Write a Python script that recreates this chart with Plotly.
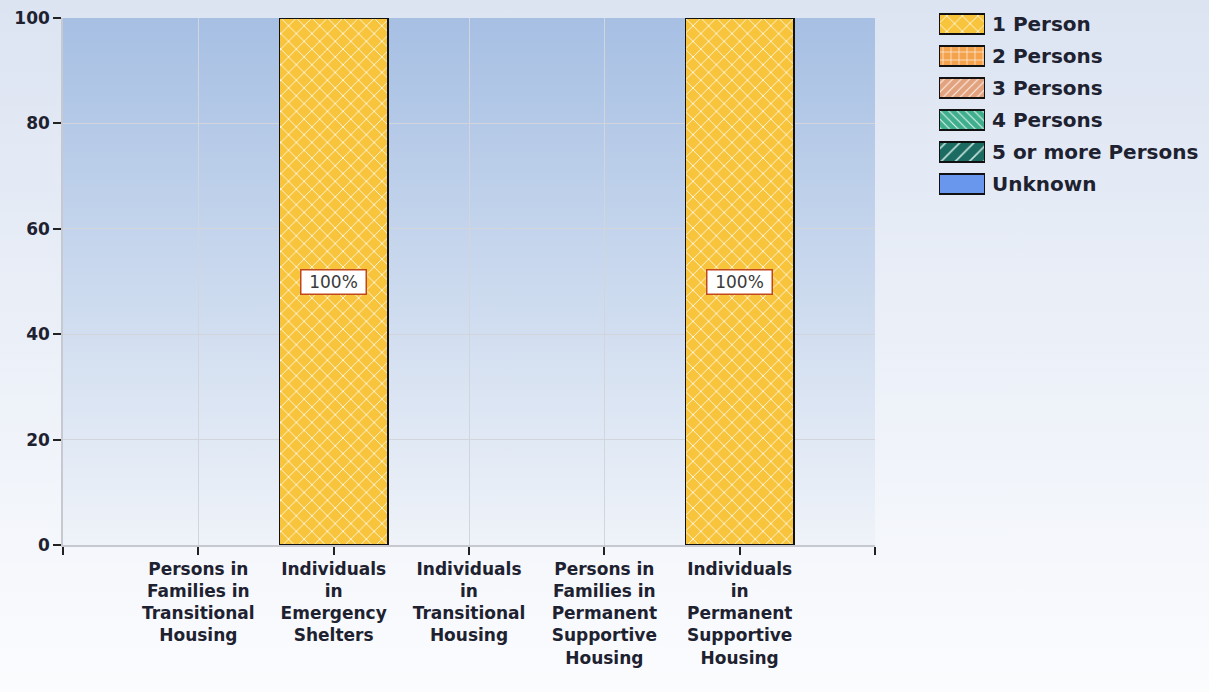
import base64
import plotly.graph_objects as go

# Household size breakdown (percent of persons) by housing category
categories = [
    "Persons in<br>Families in<br>Transitional<br>Housing",
    "Individuals<br>in<br>Emergency<br>Shelters",
    "Individuals<br>in<br>Transitional<br>Housing",
    "Persons in<br>Families in<br>Permanent<br>Supportive<br>Housing",
    "Individuals<br>in<br>Permanent<br>Supportive<br>Housing",
]
series_names = ["1 Person", "2 Persons", "3 Persons", "4 Persons", "5 or more Persons", "Unknown"]
one_person = [0, 100, 0, 0, 100]
two_persons = [0, 0, 0, 0, 0]
three_persons = [0, 0, 0, 0, 0]
four_persons = [0, 0, 0, 0, 0]
five_plus_persons = [0, 0, 0, 0, 0]
unknown = [0, 0, 0, 0, 0]
y_ticks = [0, 20, 40, 60, 80, 100]

series_values = [one_person, two_persons, three_persons, four_persons, five_plus_persons, unknown]

# fill colour, pattern shape, pattern colour, pattern size
styles = [
    ("#f7c43c", "x", "rgba(255,255,255,0.85)", 11),
    ("#f4a24c", "+", "rgba(255,255,255,0.9)", 8),
    ("#e2a27e", "/", "rgba(255,255,255,0.9)", 6),
    ("#3fae8c", "\\", "rgba(255,255,255,0.9)", 6),
    ("#1c6b62", "/", "rgba(215,240,235,0.9)", 10),
    ("#6a97ee", "", None, 8),
]

FONT = "DejaVu Sans, Verdana, sans-serif"
TEXT = "#1e2230"

W, H = 1209, 692


def px_x(px):
    return px / W


def px_y(px):
    return 1 - px / H


def gradient_uri(top, bottom):
    svg = (
        '<svg xmlns="http://www.w3.org/2000/svg" width="100" height="100" '
        'preserveAspectRatio="none"><defs><linearGradient id="g" x1="0" y1="0" '
        f'x2="0" y2="1"><stop offset="0" stop-color="{top}"/><stop offset="1" '
        f'stop-color="{bottom}"/></linearGradient></defs>'
        '<rect width="100" height="100" fill="url(#g)"/></svg>'
    )
    return "data:image/svg+xml;base64," + base64.b64encode(svg.encode()).decode()


# plot area and legend box in pixels
PL, PR, PT, PB = 63, 875, 18, 545
LL, LR, LT, LB = 939, 985, 8, 200

x_pos = list(range(1, len(categories) + 1))


def pattern_for(color, shape, fg, size):
    if not shape:
        return dict(shape="")
    return dict(shape=shape, fgcolor=fg, bgcolor=color, size=size,
                solidity=0.16, fillmode="replace")


fig = go.Figure()
for name, vals, (color, shape, fg, size) in zip(series_names, series_values, styles):
    fig.add_trace(go.Bar(
        name=name,
        x=x_pos,
        y=[v if v else None for v in vals],
        width=0.8,
        marker=dict(color=color, line=dict(color="#111111", width=1.5),
                    pattern=pattern_for(color, shape, fg, size)),
        showlegend=False,
        hoverinfo="skip",
        xaxis="x", yaxis="y",
    ))

# legend keys: one full-width swatch per series on its own small axis
for name, (color, shape, fg, size) in zip(series_names, styles):
    fig.add_trace(go.Bar(
        name=name,
        y=[name], x=[1], orientation="h", width=0.62,
        marker=dict(color=color, line=dict(color="#111111", width=1.5),
                    pattern=pattern_for(color, shape, fg, size)),
        showlegend=False, hoverinfo="skip",
        xaxis="x2", yaxis="y2",
    ))

# value labels centred in each stacked segment
annotations = []
for i, xp in enumerate(x_pos):
    base = 0
    for vals in series_values:
        v = vals[i]
        if v:
            annotations.append(dict(
                x=xp, y=base + v / 2, xref="x", yref="y", text=f"{v:g}%",
                showarrow=False,
                font=dict(family=FONT, size=17, color="#3a3a3a", weight="normal"),
                bgcolor="#ffffff", bordercolor="#c2471c", borderwidth=1.5,
                width=62, height=21, borderpad=1,
            ))
        base += v

fig.update_layout(
    width=W, height=H,
    margin=dict(l=0, r=0, t=0, b=0, pad=0, autoexpand=False),
    barmode="stack",
    paper_bgcolor="#eef2f8",
    plot_bgcolor="rgba(0,0,0,0)",
    font=dict(family=FONT, size=17, color=TEXT, weight="bold"),
    showlegend=False,
    annotations=annotations,
    images=[
        dict(source=gradient_uri("#dce4f2", "#fbfcfe"), xref="paper", yref="paper",
             x=0, y=1, sizex=1, sizey=1,
             sizing="stretch", layer="below", xanchor="left", yanchor="top"),
        dict(source=gradient_uri("#a6bfe3", "#eff3f9"), xref="paper", yref="paper",
             x=px_x(PL), y=px_y(PT), sizex=(PR - PL) / W, sizey=(PB - PT) / H,
             sizing="stretch", layer="below", xanchor="left", yanchor="top"),
    ],
    xaxis=dict(
        domain=[px_x(PL), px_x(PR)], anchor="y", automargin=False,
        range=[0, len(categories) + 1],
        tickmode="array",
        tickvals=[0] + x_pos + [len(categories) + 1],
        ticktext=[""] + categories + [""],
        ticks="outside", ticklen=8, tickwidth=1.5, tickcolor="#222222",
        showgrid=True, gridcolor="#d2d6dc", gridwidth=1,
        showline=True, linecolor="#c6cad0", linewidth=1.5,
        zeroline=False, fixedrange=True,
    ),
    yaxis=dict(
        domain=[px_y(PB), px_y(PT)], anchor="x", automargin=False,
        range=[0, 100],
        tickmode="array", tickvals=y_ticks,
        ticks="outside", ticklen=8, tickwidth=1.5, tickcolor="#222222",
        showgrid=True, gridcolor="#d2d6dc", gridwidth=1,
        showline=True, linecolor="#c6cad0", linewidth=1.5,
        zeroline=False, fixedrange=True,
    ),
    xaxis2=dict(
        domain=[px_x(LL), px_x(LR)], anchor="y2", range=[0, 1], automargin=False,
        visible=False, fixedrange=True,
    ),
    yaxis2=dict(
        domain=[px_y(LB), px_y(LT)], anchor="x2", automargin=False,
        categoryorder="array", categoryarray=series_names[::-1],
        range=[-0.5, len(series_names) - 0.5],
        side="right", showgrid=False, zeroline=False, showline=False,
        ticks="", ticklabelstandoff=6,
        tickfont=dict(family=FONT, size=20, color=TEXT, weight="bold"),
        fixedrange=True,
    ),
)

fig.write_html("out.html")
